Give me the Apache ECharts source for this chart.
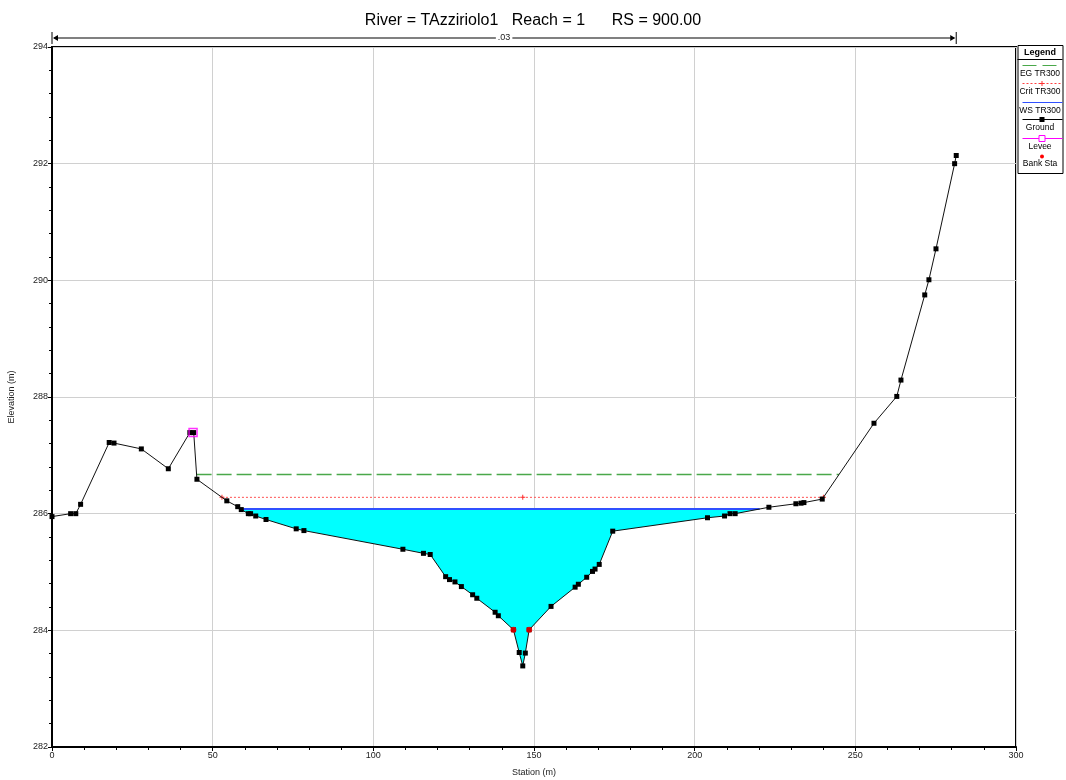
<!DOCTYPE html>
<html>
<head>
<meta charset="utf-8">
<script src="https://cdn.jsdelivr.net/npm/echarts@6/dist/echarts.min.js"></script>
<style>
  html, body { margin: 0; padding: 0; background: #fff; }
  #main { width: 1066px; height: 780px; }
</style>
</head>
<body>
<div id="main"></div>
<script>
// cross section data
var groundSta = [0, 5.8, 7.4, 8.9, 17.8, 19.3, 27.8, 36.2, 42.9, 44.1, 45.1, 54.4, 57.8, 58.9, 61.1, 61.8, 63.4, 66.6,
  76.0, 78.4, 109.2, 115.6, 117.7, 122.5, 123.7, 125.4, 127.4, 130.9, 132.2, 137.9, 138.9, 143.6, 145.4, 146.5,
  147.3, 148.5, 155.3, 162.8, 163.8, 166.4, 168.2, 169.0, 170.3, 174.5, 204.0, 209.3, 211.0, 212.6, 223.1, 231.5,
  233.1, 234.0, 239.7, 255.8, 262.9, 264.2, 271.6, 272.9, 275.1, 280.9, 281.4];
var groundElev = [285.95, 286.0, 286.0, 286.16, 287.22, 287.21, 287.11, 286.77, 287.39, 287.39, 286.59, 286.22, 286.12,
  286.07, 286.0, 286.0, 285.96, 285.90, 285.74, 285.71, 285.39, 285.32, 285.30, 284.92, 284.87, 284.83, 284.75,
  284.61, 284.55, 284.31, 284.25, 284.01, 283.62, 283.39, 283.61, 284.01, 284.41, 284.74, 284.79, 284.91, 285.01,
  285.05, 285.13, 285.70, 285.93, 285.96, 286.0, 286.0, 286.11, 286.17, 286.18, 286.19, 286.25, 287.55, 288.01,
  288.29, 289.75, 290.01, 290.54, 292.0, 292.14];

var wsElev = 286.08;     // WS TR300
var critElev = 286.28;   // Crit TR300
var egElev = 286.67;     // EG TR300
var critMidSta = 146.5;

var leveeSta = [43.9];
var leveeElev = [287.39];
var bankSta = [143.6, 148.5];
var bankElev = [284.01, 284.01];

var nSta = [0, 281.4];   // manning n region
var nLabel = '.03';

var xTicks = [0, 50, 100, 150, 200, 250, 300];
var yTicks = [282, 284, 286, 288, 290, 292, 294];

// find where a level crosses the ground, left and right of the lowest point
function crossing(level) {
  var lo = 0;
  for (var i = 1; i < groundElev.length; i++) if (groundElev[i] < groundElev[lo]) lo = i;
  var l = null, r = null;
  for (var i = lo; i > 0; i--) {
    if (groundElev[i - 1] >= level && groundElev[i] < level) {
      var t = (level - groundElev[i]) / (groundElev[i - 1] - groundElev[i]);
      l = { idx: i, sta: groundSta[i] + t * (groundSta[i - 1] - groundSta[i]) };
      break;
    }
  }
  for (var j = lo; j < groundElev.length - 1; j++) {
    if (groundElev[j + 1] >= level && groundElev[j] < level) {
      var t2 = (level - groundElev[j]) / (groundElev[j + 1] - groundElev[j]);
      r = { idx: j, sta: groundSta[j] + t2 * (groundSta[j + 1] - groundSta[j]) };
      break;
    }
  }
  return { l: l, r: r };
}

var wsX = crossing(wsElev);
var critX = crossing(critElev);
var egX = crossing(egElev);

var waterPoly = [[wsX.l.sta, wsElev]];
for (var k = wsX.l.idx; k <= wsX.r.idx; k++) waterPoly.push([groundSta[k], groundElev[k]]);
waterPoly.push([wsX.r.sta, wsElev]);

var groundData = groundSta.map(function (s, i) { return [s, groundElev[i]]; });
var plusPath = 'path://M4,0H6V4H10V6H6V10H4V6H0V4H4Z';

var myChart = echarts.init(document.getElementById('main'));
var font = 'Liberation Sans';
var lgFont = '8.5px ' + font;

var option = {
  animation: false,
  backgroundColor: '#fff',
  title: {
    text: 'River = TAzziriolo1   Reach = 1      RS = 900.00',
    left: 'center',
    top: 8,
    textStyle: { fontFamily: font, fontSize: 16, fontWeight: 'normal', color: '#000' }
  },
  grid: {
    left: 52, right: 50, top: 47, bottom: 33,
    outerBoundsMode: 'none',
    containLabel: false,
    show: true, borderColor: '#000', borderWidth: 2
  },
  xAxis: {
    type: 'value', min: 0, max: 300, interval: 50,
    name: 'Station (m)', nameLocation: 'middle', nameGap: 21,
    nameTextStyle: { fontFamily: font, fontSize: 9, color: '#222' },
    axisLine: { lineStyle: { color: '#000', width: 2 } },
    axisTick: { length: 4, lineStyle: { color: '#000' } },
    minorTick: { show: true, splitNumber: 5, length: 3, lineStyle: { color: '#000' } },
    axisLabel: { fontFamily: font, fontSize: 9, color: '#222', margin: 4,
      formatter: function (v) { return xTicks.indexOf(v) >= 0 ? String(v) : ''; } },
    splitLine: { show: true, lineStyle: { color: '#d0d0d0' } }
  },
  yAxis: {
    type: 'value', min: 282, max: 294, interval: 2,
    name: 'Elevation (m)', nameLocation: 'middle', nameGap: 36,
    nameTextStyle: { fontFamily: font, fontSize: 9, color: '#222' },
    axisLine: { lineStyle: { color: '#000', width: 2 } },
    axisTick: { length: 4, lineStyle: { color: '#000' } },
    minorTick: { show: true, splitNumber: 5, length: 3, lineStyle: { color: '#000' } },
    axisLabel: { fontFamily: font, fontSize: 9, color: '#222', margin: 4,
      formatter: function (v) { return yTicks.indexOf(v) >= 0 ? String(v) : ''; } },
    splitLine: { show: true, lineStyle: { color: '#d0d0d0' } }
  },
  series: [
    {
      // water area
      type: 'custom',
      name: 'WS area',
      data: [[wsX.l.sta, wsElev]],
      renderItem: function (params, api) {
        var pts = waterPoly.map(function (p) { return api.coord(p); });
        return { type: 'polygon', shape: { points: pts }, style: { fill: '#00ffff' } };
      },
      z: 1
    },
    {
      type: 'line', name: 'WS TR300',
      data: [[wsX.l.sta, wsElev], [wsX.r.sta, wsElev]],
      symbol: 'none',
      lineStyle: { color: '#3050ff', width: 2 },
      z: 2
    },
    {
      type: 'line', name: 'Crit TR300',
      data: [[critX.l.sta, critElev], [critMidSta, critElev], [critX.r.sta, critElev]],
      symbol: plusPath, symbolSize: 5,
      itemStyle: { color: '#ff3030' },
      lineStyle: { color: '#ff5050', width: 1, type: [2, 2] },
      z: 3
    },
    {
      type: 'line', name: 'EG TR300',
      data: [[egX.l.sta, egElev], [egX.r.sta, egElev]],
      symbol: 'none',
      lineStyle: { color: '#4aa84a', width: 1.5, type: [15, 5] },
      z: 3
    },
    {
      type: 'line', name: 'Ground',
      data: groundData,
      symbol: 'rect', symbolSize: 5,
      itemStyle: { color: '#000' },
      lineStyle: { color: '#111', width: 1 },
      z: 4
    },
    {
      type: 'scatter', name: 'Levee',
      data: leveeSta.map(function (s, i) { return [s, leveeElev[i]]; }),
      symbol: 'rect', symbolSize: 8,
      itemStyle: { color: 'rgba(0,0,0,0)', borderColor: '#ff00ff', borderWidth: 1.5 },
      z: 5
    },
    {
      type: 'scatter', name: 'Bank Sta',
      data: bankSta.map(function (s, i) { return [s, bankElev[i]]; }),
      symbol: 'circle', symbolSize: 6,
      itemStyle: { color: '#ff0000' },
      z: 6
    },
    {
      // manning's n bar above the plot
      type: 'custom', name: 'n',
      data: [[nSta[0], 294]],
      clip: false,
      renderItem: function (params, api) {
        var a = api.coord([nSta[0], 294]);
        var b = api.coord([nSta[1], 294]);
        var y = a[1] - 9;
        var mid = (a[0] + b[0]) / 2;
        var ls = { stroke: '#808080', lineWidth: 2 };
        return {
          type: 'group',
          children: [
            { type: 'line', shape: { x1: a[0] + 2, y1: y, x2: b[0] - 2, y2: y }, style: ls },
            { type: 'line', shape: { x1: a[0], y1: y - 6, x2: a[0], y2: y + 6 }, style: { stroke: '#000', lineWidth: 1 } },
            { type: 'line', shape: { x1: b[0], y1: y - 6, x2: b[0], y2: y + 6 }, style: { stroke: '#000', lineWidth: 1 } },
            { type: 'polygon', shape: { points: [[a[0] + 1, y], [a[0] + 6, y - 3], [a[0] + 6, y + 3]] }, style: { fill: '#000' } },
            { type: 'polygon', shape: { points: [[b[0] - 1, y], [b[0] - 6, y - 3], [b[0] - 6, y + 3]] }, style: { fill: '#000' } },
            { type: 'text', x: mid, y: y, style: { text: nLabel, fill: '#222', font: '9px ' + font,
              align: 'center', verticalAlign: 'middle', backgroundColor: '#fff', padding: [0, 2] } }
          ]
        };
      },
      z: 7
    }
  ],
  graphic: [
    {
      type: 'group', right: 1, top: 45,
      children: [
        { type: 'rect', shape: { x: 0.5, y: 0.5, width: 45, height: 128 }, style: { fill: '#fff', stroke: '#000', lineWidth: 1 } },
        { type: 'line', shape: { x1: 0, y1: 14.5, x2: 45, y2: 14.5 }, style: { stroke: '#000', lineWidth: 1 } },
        { type: 'text', x: 22.5, y: 8, style: { text: 'Legend', font: 'bold 9px ' + font, fill: '#000', align: 'center', verticalAlign: 'middle' } },

        { type: 'line', shape: { x1: 5, y1: 20.5, x2: 45, y2: 20.5 }, style: { stroke: '#4aa84a', lineWidth: 1, lineDash: [14, 6] } },
        { type: 'text', x: 22.5, y: 29, style: { text: 'EG TR300', font: lgFont, fill: '#000', align: 'center', verticalAlign: 'middle' } },

        { type: 'line', shape: { x1: 5, y1: 38.5, x2: 45, y2: 38.5 }, style: { stroke: '#ff4040', lineWidth: 1, lineDash: [2, 2] } },
        { type: 'line', shape: { x1: 22, y1: 38.5, x2: 27, y2: 38.5 }, style: { stroke: '#ff3030', lineWidth: 1 } },
        { type: 'line', shape: { x1: 24.5, y1: 36, x2: 24.5, y2: 41 }, style: { stroke: '#ff3030', lineWidth: 1 } },
        { type: 'text', x: 22.5, y: 47, style: { text: 'Crit TR300', font: lgFont, fill: '#000', align: 'center', verticalAlign: 'middle' } },

        { type: 'line', shape: { x1: 5, y1: 57.5, x2: 45, y2: 57.5 }, style: { stroke: '#3050ff', lineWidth: 1 } },
        { type: 'text', x: 22.5, y: 66, style: { text: 'WS TR300', font: lgFont, fill: '#000', align: 'center', verticalAlign: 'middle' } },

        { type: 'line', shape: { x1: 5, y1: 74.5, x2: 45, y2: 74.5 }, style: { stroke: '#000', lineWidth: 1 } },
        { type: 'rect', shape: { x: 22, y: 72, width: 5, height: 5 }, style: { fill: '#000' } },
        { type: 'text', x: 22.5, y: 83, style: { text: 'Ground', font: lgFont, fill: '#000', align: 'center', verticalAlign: 'middle' } },

        { type: 'line', shape: { x1: 5, y1: 93.5, x2: 45, y2: 93.5 }, style: { stroke: '#ff00ff', lineWidth: 1 } },
        { type: 'rect', shape: { x: 21.5, y: 90.5, width: 6, height: 6 }, style: { fill: '#fff', stroke: '#ff00ff', lineWidth: 1 } },
        { type: 'text', x: 22.5, y: 102, style: { text: 'Levee', font: lgFont, fill: '#000', align: 'center', verticalAlign: 'middle' } },

        { type: 'circle', shape: { cx: 24.5, cy: 111.5, r: 2 }, style: { fill: '#ff0000' } },
        { type: 'text', x: 22.5, y: 119, style: { text: 'Bank Sta', font: lgFont, fill: '#000', align: 'center', verticalAlign: 'middle' } }
      ]
    }
  ]
};

myChart.setOption(option);
window.addEventListener('resize', function () {
  myChart.resize();
});
</script>
</body>
</html>
